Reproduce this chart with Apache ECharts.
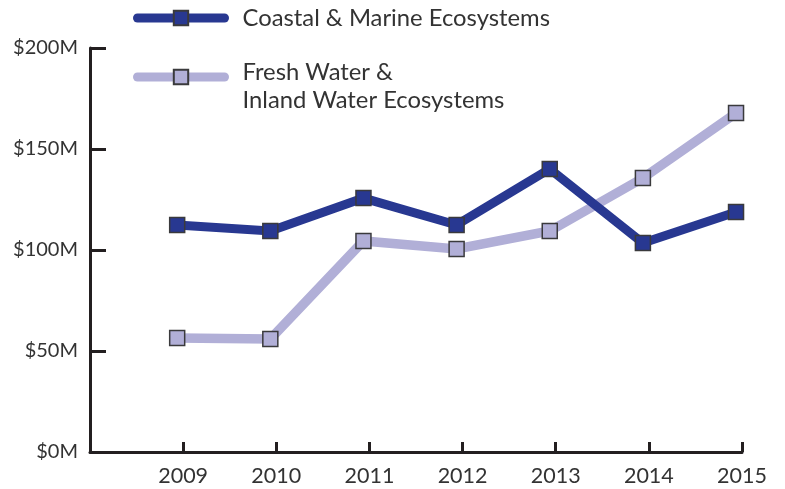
<!DOCTYPE html>
<html>
<head>
<meta charset="utf-8">
<script src="https://cdn.jsdelivr.net/npm/echarts@6/dist/echarts.min.js"></script>
<style>
html,body{margin:0;padding:0;background:#fff;}
#main{width:785px;height:489px;}
</style>
</head>
<body>
<div id="main"></div>
<script>
var years = [2009, 2010, 2011, 2012, 2013, 2014, 2015];
var coastal = [112.4, 109.4, 125.7, 112.4, 140.1, 103.5, 118.8];
var fresh = [56.4, 55.9, 104.5, 100.5, 109.4, 135.6, 167.8];
var yTicks = [0, 50, 100, 150, 200];
var nameCoastal = 'Coastal & Marine Ecosystems';
var nameFresh = 'Fresh Water & Inland Water Ecosystems';
var freshLines = ['Fresh Water &', 'Inland Water Ecosystems'];

var axisColor = '#231f20';
var textColor = '#333333';
var fontFam = 'Lato, "Open Sans", sans-serif';

function pairs(vals) {
  return years.map(function (y, i) { return [y, vals[i]]; });
}

var chart = echarts.init(document.getElementById('main'), null, {renderer: 'canvas'});
chart.setOption({
  animation: false,
  backgroundColor: '#ffffff',
  grid: {left: 90, right: 43, top: 48, bottom: 37},
  legend: [
    {
      data: [nameCoastal],
      left: 133, top: 6, padding: 0,
      itemWidth: 87, itemHeight: 18,
      lineStyle: {width: 9, cap: 'round'},
      textStyle: {fontFamily: fontFam, fontSize: 23.8, color: textColor, padding: [0, 0, 0, 13]},
      selectedMode: false
    },
    {
      data: [nameFresh],
      left: 133, top: 44, padding: 0,
      itemWidth: 87, itemHeight: 18,
      lineStyle: {width: 9, cap: 'round'},
      formatter: function () {
        return '{s| }\n{a|' + freshLines[0] + '}\n{a|' + freshLines[1] + '}';
      },
      textStyle: {
        fontFamily: fontFam, fontSize: 23.8, color: textColor,
        rich: {
          s: {fontSize: 10, lineHeight: 18, padding: [0, 0, 0, 13]},
          a: {fontFamily: fontFam, fontSize: 23.8, color: textColor, lineHeight: 28, padding: [0, 0, 0, 13]}
        }
      },
      selectedMode: false
    }
  ],
  xAxis: [
    {
      type: 'value', min: 2008, max: 2015, interval: 1,
      axisLine: {show: true, lineStyle: {color: axisColor, width: 3}},
      axisTick: {show: true, inside: true, length: 10, lineStyle: {color: axisColor, width: 3}},
      axisLabel: {
        fontFamily: fontFam, fontSize: 21.5, color: textColor, margin: 13,
        formatter: function (v) { return years.indexOf(v) >= 0 ? String(v) : ''; }
      },
      splitLine: {show: false}
    },
    {
      type: 'value', min: 2008.064, max: 2015.064, show: false
    }
  ],
  yAxis: {
    type: 'value', min: yTicks[0], max: yTicks[yTicks.length - 1], interval: 50,
    axisLine: {show: true, lineStyle: {color: axisColor, width: 3}},
    axisTick: {show: true, inside: true, length: 16, lineStyle: {color: axisColor, width: 3}},
    axisLabel: {
      fontFamily: fontFam, fontSize: 20, color: textColor, margin: 12,
      formatter: function (v) { return '$' + v + 'M'; }
    },
    splitLine: {show: false}
  },
  series: [
    {
      name: nameFresh, type: 'line', xAxisIndex: 1,
      data: pairs(fresh),
      symbol: 'rect', symbolSize: 15,
      lineStyle: {color: '#b1afd7', width: 9.5, cap: 'round', join: 'miter'},
      itemStyle: {color: '#b1afd7', borderColor: '#3a3a3c', borderWidth: 1.5},
      z: 2
    },
    {
      name: nameCoastal, type: 'line', xAxisIndex: 1,
      data: pairs(coastal),
      symbol: 'rect', symbolSize: 15,
      lineStyle: {color: '#283891', width: 9, cap: 'round', join: 'miter'},
      itemStyle: {color: '#283891', borderColor: '#3a3a3c', borderWidth: 1.5},
      z: 3
    }
  ]
});
</script>
</body>
</html>
